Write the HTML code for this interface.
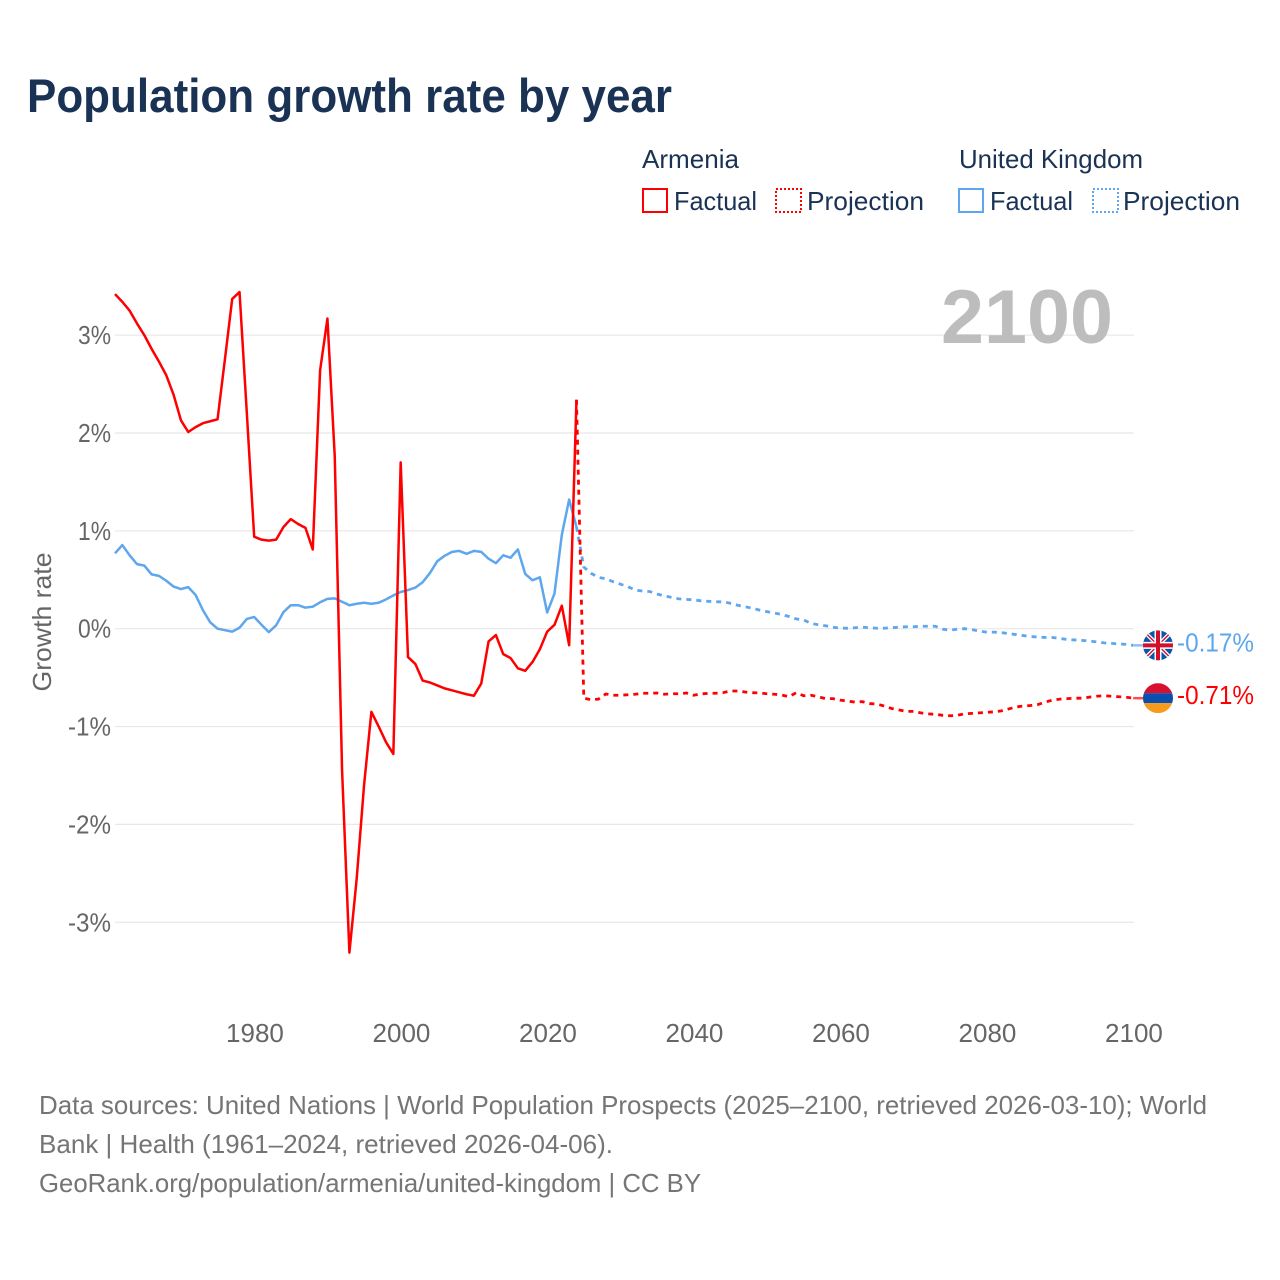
<!DOCTYPE html>
<html lang="en">
<head>
<meta charset="utf-8">
<title>Population growth rate by year</title>
<style>
html,body{margin:0;padding:0;background:#fff;}
svg{display:block;font-family:"Liberation Sans",sans-serif;}
</style>
</head>
<body>
<svg id="chart" xmlns="http://www.w3.org/2000/svg" width="1280" height="1280" viewBox="0 0 1280 1280">
  <rect x="0" y="0" width="1280" height="1280" fill="#ffffff"/>
  <text x="27" y="112" font-size="47" font-weight="700" fill="#1a3354" textLength="645" lengthAdjust="spacingAndGlyphs">Population growth rate by year</text>

  <g fill="#1a3354" font-size="26">
    <text x="642" y="168" textLength="97" lengthAdjust="spacingAndGlyphs">Armenia</text>
    <text x="959" y="168" textLength="184" lengthAdjust="spacingAndGlyphs">United Kingdom</text>
    <g>
      <rect x="643" y="189" width="24" height="23" fill="none" stroke="#ff0000" stroke-width="2"/>
      <text x="674" y="210" textLength="83" lengthAdjust="spacingAndGlyphs">Factual</text>
    </g>
    <g>
      <rect x="776" y="189" width="25" height="23" fill="none" stroke="#ff0000" stroke-width="2" stroke-dasharray="2 2"/>
      <text x="807" y="210" textLength="117" lengthAdjust="spacingAndGlyphs">Projection</text>
    </g>
    <g>
      <rect x="959" y="189" width="24" height="23" fill="none" stroke="#5ea6ee" stroke-width="2"/>
      <text x="990" y="210" textLength="83" lengthAdjust="spacingAndGlyphs">Factual</text>
    </g>
    <g>
      <rect x="1093" y="189" width="25" height="23" fill="none" stroke="#5ea6ee" stroke-width="2" stroke-dasharray="2 2"/>
      <text x="1123" y="210" textLength="117" lengthAdjust="spacingAndGlyphs">Projection</text>
    </g>
  </g>

  <g id="grid"></g>
  <text x="941" y="343" font-size="76" font-weight="700" fill="#bdbdbd" textLength="172" lengthAdjust="spacingAndGlyphs">2100</text>
  <g id="yticks" fill="#666666" font-size="26"></g>
  <g id="xticks" fill="#666666" font-size="26"></g>
  <text transform="translate(51,622) rotate(-90)" text-anchor="middle" font-size="26" fill="#666666" textLength="139" lengthAdjust="spacingAndGlyphs">Growth rate</text>
  <g id="series" fill="none" stroke-width="2.5" stroke-linejoin="round"></g>

  <defs>
    <clipPath id="ukClip"><circle id="ukClipCircle" cx="1158" cy="645" r="15"/></clipPath>
    <clipPath id="amClip"><circle id="amClipCircle" cx="1158" cy="698" r="15"/></clipPath>
  </defs>

  <g id="ukFlag">
    <g clip-path="url(#ukClip)">
      <rect x="1143" y="-15" width="30" height="30" fill="#0b55ad" transform="translate(0,0)" id="ukBase"/>
      <g id="ukCross">
        <path d="M-15 -15 L15 15 M15 -15 L-15 15" stroke="#ffffff" stroke-width="4" fill="none"/>
        <path d="M-15 -15 L15 15 M15 -15 L-15 15" stroke="#d0102c" stroke-width="1.4" fill="none"/>
        <path d="M0 -15 V15 M-15 0 H15" stroke="#ffffff" stroke-width="7" fill="none"/>
        <path d="M0 -15 V15 M-15 0 H15" stroke="#d0102c" stroke-width="4" fill="none"/>
      </g>
    </g>
  </g>
  <g id="amFlag">
    <g clip-path="url(#amClip)">
      <rect id="amRed" x="1143" width="30" height="10" fill="#d90f2f"/>
      <rect id="amBlue" x="1143" width="30" height="10" fill="#0a4fae"/>
      <rect id="amOrange" x="1143" width="30" height="10" fill="#f89a1c"/>
    </g>
  </g>
  <text id="ukEnd" x="1177" font-size="26" fill="#5ea6ee" textLength="77" lengthAdjust="spacingAndGlyphs"></text>
  <text id="amEnd" x="1177" font-size="26" fill="#ff0000" textLength="77" lengthAdjust="spacingAndGlyphs"></text>

  <g font-size="26" fill="#757575">
    <text x="39" y="1114" textLength="1168" lengthAdjust="spacingAndGlyphs">Data sources: United Nations | World Population Prospects (2025–2100, retrieved 2026-03-10); World</text>
    <text x="39" y="1153" textLength="574" lengthAdjust="spacingAndGlyphs">Bank | Health (1961–2024, retrieved 2026-04-06).</text>
    <text x="39" y="1192" textLength="662" lengthAdjust="spacingAndGlyphs">GeoRank.org/population/armenia/united-kingdom | CC BY</text>
  </g>
</svg>

<script>
const yTickValues = [3, 2, 1, 0, -1, -2, -3];
const xTickValues = [1980, 2000, 2020, 2040, 2060, 2080, 2100];
const factualFirstYear = 1961;
const projectionFirstYear = 2024;

const armeniaFactual = [
  3.42, 3.34, 3.25, 3.12, 3.00, 2.86, 2.73, 2.59, 2.39, 2.13,
  2.01, 2.06, 2.10, 2.12, 2.14, 2.75, 3.37, 3.44, 2.20, 0.94,
  0.91, 0.90, 0.91, 1.04, 1.12, 1.07, 1.03, 0.81, 2.64, 3.17,
  1.76, -1.45, -3.31, -2.55, -1.60, -0.85, -1.00, -1.16, -1.28, 1.70,
  -0.29, -0.36, -0.53, -0.55, -0.58, -0.61, -0.63, -0.65, -0.67, -0.685,
  -0.56, -0.13, -0.065, -0.26, -0.30, -0.405, -0.43, -0.34, -0.21, -0.03,
  0.04, 0.235, -0.17, 2.34
];
const armeniaProjection = [
  2.34, -0.71, -0.725, -0.72, -0.667, -0.68, -0.68, -0.675, -0.67, -0.66,
  -0.66, -0.657, -0.67, -0.665, -0.665, -0.657, -0.68, -0.667, -0.66, -0.66,
  -0.654, -0.637, -0.637, -0.647, -0.654, -0.657, -0.665, -0.67, -0.677, -0.695,
  -0.654, -0.685, -0.68, -0.695, -0.715, -0.715, -0.73, -0.74, -0.75, -0.745,
  -0.765, -0.77, -0.79, -0.815, -0.83, -0.845, -0.845, -0.86, -0.87, -0.875,
  -0.885, -0.89, -0.885, -0.87, -0.865, -0.86, -0.855, -0.85, -0.84, -0.82,
  -0.80, -0.79, -0.785, -0.775, -0.75, -0.73, -0.72, -0.715, -0.71, -0.71,
  -0.70, -0.69, -0.685, -0.69, -0.695, -0.70, -0.71
];
const ukFactual = [
  0.77, 0.855, 0.75, 0.66, 0.645, 0.555, 0.54, 0.49, 0.43, 0.405,
  0.425, 0.345, 0.19, 0.065, 0.00, -0.015, -0.03, 0.01, 0.10, 0.12,
  0.04, -0.035, 0.035, 0.17, 0.24, 0.24, 0.215, 0.225, 0.27, 0.305,
  0.31, 0.275, 0.24, 0.255, 0.265, 0.255, 0.265, 0.30, 0.34, 0.375,
  0.395, 0.42, 0.475, 0.57, 0.69, 0.745, 0.785, 0.795, 0.765, 0.795,
  0.785, 0.715, 0.67, 0.75, 0.725, 0.81, 0.56, 0.495, 0.525, 0.165,
  0.36, 0.96, 1.32, 1.04
];
const ukProjection = [
  1.04, 0.63, 0.565, 0.525, 0.51, 0.48, 0.455, 0.43, 0.395, 0.385,
  0.38, 0.355, 0.335, 0.32, 0.305, 0.30, 0.295, 0.285, 0.28, 0.275,
  0.275, 0.26, 0.24, 0.225, 0.21, 0.19, 0.175, 0.16, 0.145, 0.125,
  0.10, 0.09, 0.055, 0.04, 0.03, 0.015, 0.005, 0.005, 0.01, 0.015,
  0.01, 0.005, 0.005, 0.01, 0.015, 0.02, 0.02, 0.025, 0.025, 0.025,
  -0.005, -0.015, -0.005, 0, -0.01, -0.025, -0.035, -0.035, -0.04, -0.05,
  -0.06, -0.07, -0.08, -0.085, -0.09, -0.09, -0.10, -0.11, -0.115, -0.12,
  -0.125, -0.135, -0.145, -0.15, -0.155, -0.16, -0.17
];

const NS = 'http://www.w3.org/2000/svg';
const RED = '#ff0000';
const BLUE = '#5ea6ee';

function xScale(year) { return 115 + (year - 1961) * 7.325; }
function yScale(value) { return 628.7 - value * 97.85; }

function linePath(values, firstYear) {
  return values.map(function (v, i) {
    return (i ? 'L' : 'M') + xScale(firstYear + i).toFixed(2) + ' ' + yScale(v).toFixed(2);
  }).join(' ');
}

const gridGroup = document.getElementById('grid');
const yTickGroup = document.getElementById('yticks');
yTickValues.forEach(function (v) {
  const line = document.createElementNS(NS, 'line');
  
  
  line.setAttribute('x1', xScale(1961));
  line.setAttribute('x2', xScale(2100) + 0.8);
  line.setAttribute('y1', yScale(v));
  line.setAttribute('y2', yScale(v));
  line.setAttribute('stroke', '#e8e8e8');
  line.setAttribute('stroke-width', '1.2');
  gridGroup.appendChild(line);

  const label = document.createElementNS(NS, 'text');
  
  
  label.setAttribute('x', v < 0 ? 68 : 78);
  label.setAttribute('y', yScale(v) + 9);
  label.setAttribute('textLength', v < 0 ? 43 : 33);
  label.setAttribute('lengthAdjust', 'spacingAndGlyphs');
  label.textContent = v + '%';
  yTickGroup.appendChild(label);
});

const xTickGroup = document.getElementById('xticks');
xTickValues.forEach(function (year) {
  const label = document.createElementNS(NS, 'text');
  
  
  label.setAttribute('x', xScale(year) + 0.8);
  label.setAttribute('y', 1042);
  label.setAttribute('text-anchor', 'middle');
  label.textContent = String(year);
  xTickGroup.appendChild(label);
});

const seriesGroup = document.getElementById('series');

const ukFactualLine = document.createElementNS(NS, 'path');


ukFactualLine.setAttribute('d', linePath(ukFactual, factualFirstYear));
ukFactualLine.setAttribute('stroke', BLUE);
seriesGroup.appendChild(ukFactualLine);

const ukProjectionLine = document.createElementNS(NS, 'path');


ukProjectionLine.setAttribute('d', linePath(ukProjection, projectionFirstYear));
ukProjectionLine.setAttribute('stroke', BLUE);
ukProjectionLine.setAttribute('stroke-width', '2.8');
ukProjectionLine.setAttribute('stroke-dasharray', '5 5');
seriesGroup.appendChild(ukProjectionLine);

const armeniaFactualLine = document.createElementNS(NS, 'path');


armeniaFactualLine.setAttribute('d', linePath(armeniaFactual, factualFirstYear));
armeniaFactualLine.setAttribute('stroke', RED);
seriesGroup.appendChild(armeniaFactualLine);

const armeniaProjectionLine = document.createElementNS(NS, 'path');


armeniaProjectionLine.setAttribute('d', linePath(armeniaProjection, projectionFirstYear));
armeniaProjectionLine.setAttribute('stroke', RED);
armeniaProjectionLine.setAttribute('stroke-width', '2.8');
armeniaProjectionLine.setAttribute('stroke-dasharray', '5 5');
seriesGroup.appendChild(armeniaProjectionLine);

const ukLast = ukProjection[ukProjection.length - 1];
const amLast = armeniaProjection[armeniaProjection.length - 1];
const ukY = yScale(ukLast);
const amY = yScale(amLast);

const ukLeader = document.createElementNS(NS, 'line');


ukLeader.setAttribute('x1', xScale(2100));
ukLeader.setAttribute('x2', 1144);
ukLeader.setAttribute('y1', ukY);
ukLeader.setAttribute('y2', ukY);
ukLeader.setAttribute('stroke', BLUE);
ukLeader.setAttribute('stroke-opacity', '0.7');
seriesGroup.appendChild(ukLeader);

const amLeader = document.createElementNS(NS, 'line');


amLeader.setAttribute('x1', xScale(2100));
amLeader.setAttribute('x2', 1144);
amLeader.setAttribute('y1', amY);
amLeader.setAttribute('y2', amY);
amLeader.setAttribute('stroke', RED);
amLeader.setAttribute('stroke-opacity', '0.7');
seriesGroup.appendChild(amLeader);

document.getElementById('ukClipCircle').setAttribute('cy', ukY);
document.getElementById('amClipCircle').setAttribute('cy', amY);
document.getElementById('ukBase').setAttribute('y', ukY - 15);
document.getElementById('ukCross').setAttribute('transform', 'translate(1158,' + ukY + ')');
document.getElementById('amRed').setAttribute('y', amY - 15);
document.getElementById('amBlue').setAttribute('y', amY - 5);
document.getElementById('amOrange').setAttribute('y', amY + 5);

const ukEnd = document.getElementById('ukEnd');
ukEnd.setAttribute('y', ukY + 6);
ukEnd.textContent = ukLast.toFixed(2) + '%';
const amEnd = document.getElementById('amEnd');
amEnd.setAttribute('y', amY + 6);
amEnd.textContent = amLast.toFixed(2) + '%';
</script>
</body>
</html>
